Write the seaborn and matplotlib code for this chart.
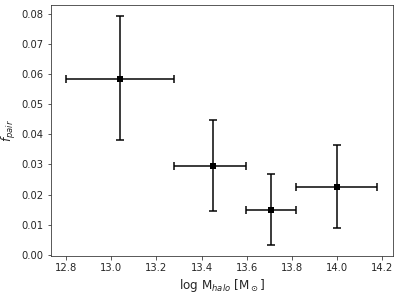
import numpy as np
import pandas as pd
import matplotlib
matplotlib.use("Agg")
import matplotlib.pyplot as plt
import seaborn as sns

# halo mass bins (log M_halo) and pair fractions
log_mhalo = [13.04, 13.45, 13.71, 14.00]
mhalo_lo = [12.80, 13.28, 13.595, 13.82]
mhalo_hi = [13.28, 13.595, 13.82, 14.18]
f_pair = [0.0584, 0.0295, 0.0150, 0.0226]
f_pair_lo = [0.0382, 0.0145, 0.0034, 0.0088]
f_pair_hi = [0.0791, 0.0446, 0.0267, 0.0363]

df = pd.DataFrame({'mhalo': log_mhalo, 'fpair': f_pair})
xerr = np.array([np.subtract(log_mhalo, mhalo_lo), np.subtract(mhalo_hi, log_mhalo)])
yerr = np.array([np.subtract(f_pair, f_pair_lo), np.subtract(f_pair_hi, f_pair)])

sns.set_style('ticks')
plt.rcParams.update({'font.size': 10, 'font.family': ['DejaVu Sans']})

DPI = 72
fig, ax = plt.subplots(figsize=(399 / DPI, 293 / DPI), dpi=DPI)
ax.errorbar(df['mhalo'], df['fpair'], xerr=xerr, yerr=yerr, fmt='none',
            ecolor='k', elinewidth=1.5, capsize=4, capthick=1.5)
sns.scatterplot(data=df, x='mhalo', y='fpair', ax=ax, marker='s', s=36,
                color='k', edgecolor='k', linewidth=0, zorder=3)
ax.set_xticks([12.8, 13.0, 13.2, 13.4, 13.6, 13.8, 14.0, 14.2])
ax.set_xlabel(r'log M$_{halo}$ [M$_\odot$]', fontsize=12)
ax.set_ylabel(r'$f_{pair}$', fontsize=12)
for s in ax.spines.values():
    s.set_color('#333333')
    s.set_linewidth(0.8)
ax.tick_params(length=3.5, width=0.8, color='#333333', labelsize=10)
fig.subplots_adjust(left=0.127, right=0.985, top=0.983, bottom=0.126)
fig.savefig('out.png', dpi=DPI)
